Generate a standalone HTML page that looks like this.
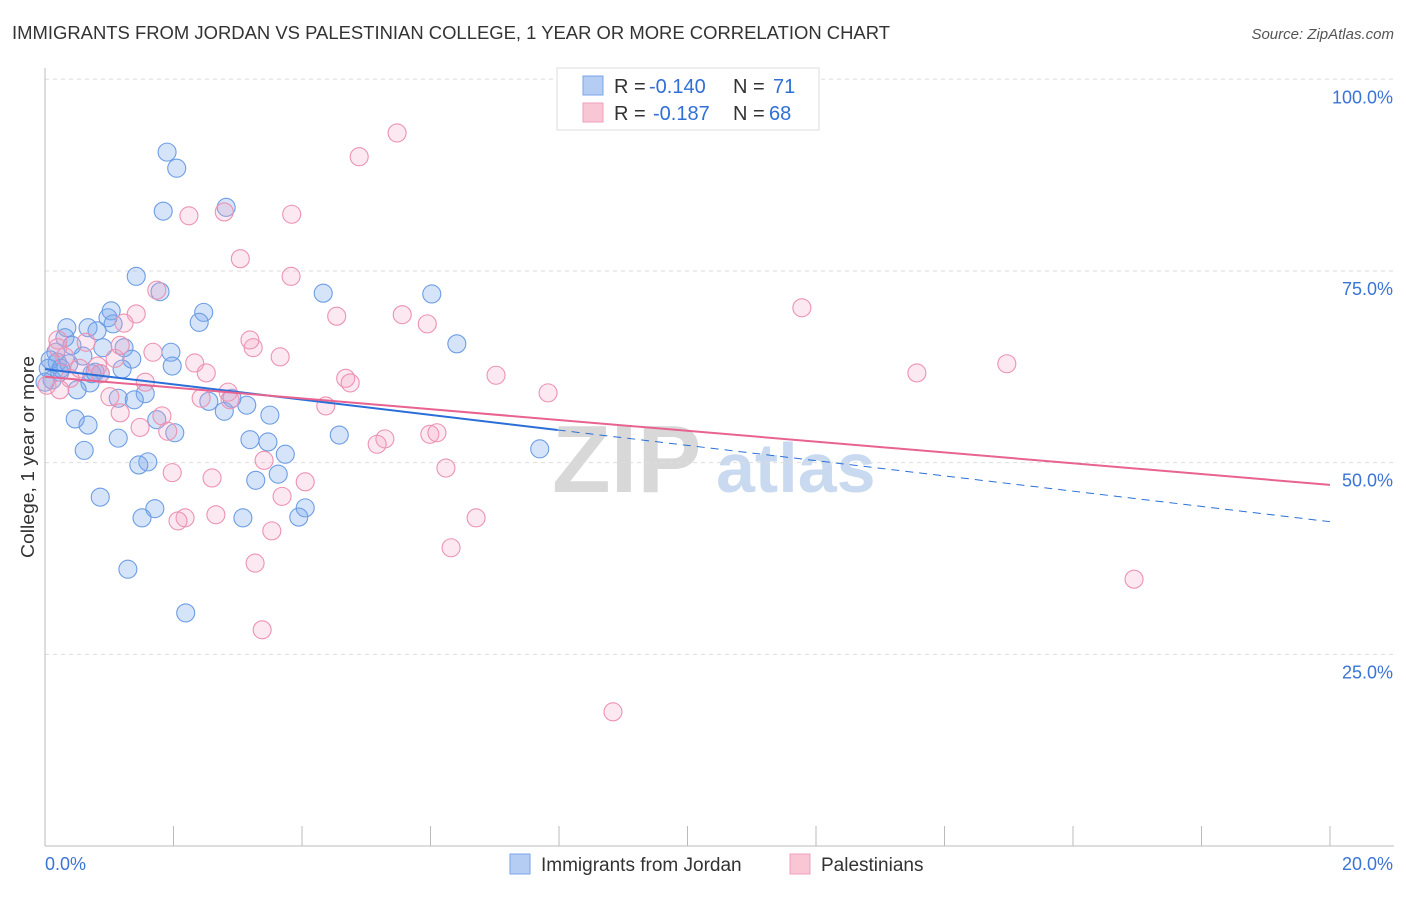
<!DOCTYPE html>
<html><head><meta charset="utf-8"><style>
body{margin:0;background:#fff;font-family:"Liberation Sans",sans-serif;}
svg text{font-family:"Liberation Sans",sans-serif;}
</style></head><body>
<svg id="chart" width="1406" height="892" xmlns="http://www.w3.org/2000/svg">
<text x="12" y="39" font-size="18" fill="#333" textLength="878" lengthAdjust="spacingAndGlyphs">IMMIGRANTS FROM JORDAN VS PALESTINIAN COLLEGE, 1 YEAR OR MORE CORRELATION CHART</text>
<text x="1394" y="39" font-size="15" fill="#555" text-anchor="end" font-style="italic">Source: ZipAtlas.com</text>
<text transform="translate(34,457) rotate(-90)" font-size="18" fill="#333" text-anchor="middle" textLength="202" lengthAdjust="spacingAndGlyphs">College, 1 year or more</text>
<g>
<text x="552" y="492" font-size="96" font-family="Liberation Serif,serif" fill="#d8d8d8" font-weight="bold">ZIP</text>
<text x="716" y="492" font-size="70" fill="#c9daf0" font-weight="bold">atlas</text>
</g>
<g id="grid"></g><g id="axes"></g><g id="pts"></g><g id="trend"></g>
<g>
<rect x="557" y="68" width="262" height="62" fill="#fff" stroke="#ddd"/>
<rect x="583" y="76" width="20" height="19" fill="#b5cdf3" stroke="#7aa5e8"/>
<rect x="583" y="103" width="20" height="19" fill="#f9c6d5" stroke="#eea0b8"/>
<text x="614" y="93" font-size="20" fill="#333">R =</text>
<text x="649" y="93" font-size="20" fill="#2f6fd6">-0.140</text>
<text x="733" y="93" font-size="20" fill="#333">N =</text>
<text x="773" y="93" font-size="20" fill="#2f6fd6">71</text>
<text x="614" y="120" font-size="20" fill="#333">R =</text>
<text x="653" y="120" font-size="20" fill="#2f6fd6">-0.187</text>
<text x="733" y="120" font-size="20" fill="#333">N =</text>
<text x="769" y="120" font-size="20" fill="#2f6fd6">68</text>
</g>
<g>
<rect x="510" y="854" width="20" height="20" fill="#b5cdf3" stroke="#7aa5e8"/>
<text x="541" y="871" font-size="19" fill="#333">Immigrants from Jordan</text>
<rect x="790" y="854" width="20" height="20" fill="#f9c6d5" stroke="#eea0b8"/>
<text x="821" y="871" font-size="19" fill="#333">Palestinians</text>
</g>
</svg>
<script>
const blueX=[1.90,2.05,1.84,2.82,1.42,1.79,4.33,6.02,1.03,2.47,2.40,0.98,1.06,0.34,0.67,0.81,6.41,0.31,0.90,1.23,0.17,1.96,0.59,1.35,1.98,0.19,0.37,0.05,1.20,0.73,0.86,0.23,0.70,0.50,1.56,1.14,1.39,2.55,3.14,2.79,3.50,0.47,1.74,0.67,2.02,3.19,3.47,4.58,1.14,3.74,7.70,0.61,1.60,1.46,3.28,3.63,0.86,1.71,1.51,3.08,4.05,3.95,1.29,2.19,0.11,0.0,0.08,0.25,0.78,0.42,2.91];
const blueY=[90.5,88.4,82.8,83.3,74.3,72.3,72.1,72.0,69.8,69.6,68.3,68.9,68.1,67.6,67.6,67.2,65.5,66.3,65.0,65.0,64.4,64.4,63.9,63.5,62.6,63.1,62.9,62.3,62.2,61.6,61.6,61.8,60.4,59.5,59.0,58.4,58.2,58.0,57.5,56.7,56.2,55.7,55.6,54.9,53.9,53.0,52.7,53.6,53.2,51.1,51.8,51.6,50.1,49.7,47.7,48.5,45.5,44.0,42.8,42.8,44.1,42.9,36.1,30.4,60.8,60.5,63.4,62.3,61.8,65.3,58.4];
const pinkX=[5.48,4.89,2.79,3.84,2.24,3.04,3.83,1.74,11.78,1.42,4.54,5.56,5.95,1.23,0.64,0.20,3.24,1.68,3.66,2.33,14.97,13.57,2.51,7.02,4.68,4.75,7.83,0.39,1.09,1.56,2.85,2.43,1.01,1.17,1.82,4.37,1.48,1.91,5.99,6.10,5.29,5.17,6.24,3.41,1.98,4.05,2.60,3.69,2.66,6.71,2.18,2.07,3.53,6.32,3.27,16.95,3.38,8.84,0.20,0.54,0.03,0.31,0.82,0.86,3.19,2.88,1.17,0.23];
const pinkY=[93.0,89.9,82.7,82.4,82.2,76.6,74.3,72.5,70.2,69.4,69.1,69.3,68.1,68.2,65.7,66.0,65.0,64.4,63.8,63.0,62.9,61.7,61.7,61.4,61.0,60.4,59.1,61.0,63.6,60.5,59.2,58.4,58.6,56.5,56.1,57.4,54.6,54.1,53.7,53.9,53.1,52.4,49.3,50.3,48.7,47.5,48.0,45.6,43.2,42.8,42.8,42.4,41.1,38.9,36.9,34.8,28.2,17.5,65.0,62.3,60.1,63.8,62.6,61.6,66.0,58.2,65.3,59.5];
const blueTrend=[62.2,42.3];
const blueSolidEnd=7.98;
const pinkTrend=[61.2,47.1];
const yTicks=[25,50,75,100];
const yTickLabels=["25.0%","50.0%","75.0%","100.0%"];
const xTickCount=10;
const NS="http://www.w3.org/2000/svg";
const X0=45,X1=1330,Y0=846,YS=7.667;
const sx=v=>X0+v*(X1-X0)/20;
const sy=v=>Y0-v*YS;
function mk(tag,attrs,parent){const e=document.createElementNS(NS,tag);for(const k in attrs)e.setAttribute(k,attrs[k]);document.getElementById(parent).appendChild(e);return e;}
yTicks.forEach((t,i)=>{
 const l=mk('line',{x1:X0,x2:1394,y1:sy(t),y2:sy(t),stroke:'#ddd','stroke-dasharray':'4,4'},'grid');
 
 
 const tx=mk('text',{x:1393,y:sy(t)+24,'font-size':18,fill:'#3a74d6','text-anchor':'end'},'grid');
 tx.textContent=yTickLabels[i];
 
 
});
const ya=mk('line',{x1:X0,x2:X0,y1:68,y2:846,stroke:'#bbb'},'axes');


const xa=mk('line',{x1:X0,x2:1394,y1:846,y2:846,stroke:'#bbb'},'axes');


for(let i=1;i<=xTickCount;i++){
 const t=mk('line',{x1:sx(i*2),x2:sx(i*2),y1:826,y2:846,stroke:'#bbb'},'axes');
 
 
}
const xl0=mk('text',{x:45,y:870,'font-size':18,fill:'#3a74d6'},'axes');xl0.textContent='0.0%';


const xl1=mk('text',{x:1393,y:870,'font-size':18,fill:'#3a74d6','text-anchor':'end'},'axes');xl1.textContent='20.0%';


blueX.forEach((v,i)=>{
 const c=mk('circle',{cx:sx(v),cy:sy(blueY[i]),r:9,fill:'rgba(120,165,235,0.3)',stroke:'#6d9de4','stroke-width':1.1},'pts');
 
 
});
pinkX.forEach((v,i)=>{
 const c=mk('circle',{cx:sx(v),cy:sy(pinkY[i]),r:9,fill:'rgba(245,165,195,0.25)',stroke:'#ec92b2','stroke-width':1.1},'pts');
 
 
});
const bAt=x=>blueTrend[0]+(blueTrend[1]-blueTrend[0])*x/20;
const b1=mk('line',{x1:sx(0),y1:sy(bAt(0)),x2:sx(blueSolidEnd),y2:sy(bAt(blueSolidEnd)),stroke:'#2a6fd8','stroke-width':2},'trend');


const b2=mk('line',{x1:sx(blueSolidEnd),y1:sy(bAt(blueSolidEnd)),x2:sx(20),y2:sy(bAt(20)),stroke:'#2a6fd8','stroke-width':1,'stroke-dasharray':'8,6'},'trend');


const p1=mk('line',{x1:sx(0),y1:sy(pinkTrend[0]),x2:sx(20),y2:sy(pinkTrend[1]),stroke:'#e8638f','stroke-width':2},'trend');


</script>
</body></html>
